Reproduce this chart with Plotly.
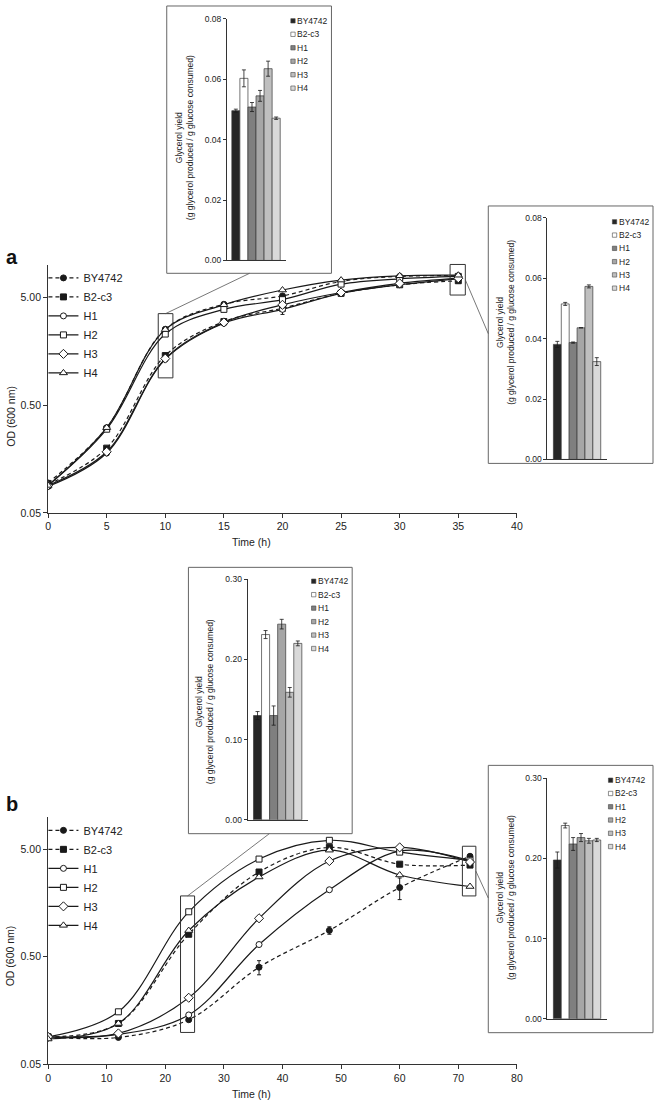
import math
import plotly.graph_objects as go

W, H = 660, 1106
FONT = "Liberation Sans"
INK = "#1a1a1a"

# ---------------- data ----------------
strains = ["BY4742", "B2-c3", "H1", "H2", "H3", "H4"]

# Panel a: growth (OD600) vs time
time_a = [0, 5, 10, 15, 20, 25, 30, 35]
od_a_BY4742 = [0.095, 0.31, 2.55, 4.35, 5.2, 7.1, 7.9, 8.0]
od_a_B2c3 = [0.092, 0.20, 1.45, 3.0, 4.0, 5.5, 6.6, 7.2]
od_a_H1 = [0.088, 0.18, 1.34, 2.9, 3.9, 5.5, 6.6, 7.5]
od_a_H2 = [0.090, 0.30, 2.30, 3.9, 4.8, 6.7, 7.5, 7.9]
od_a_H3 = [0.090, 0.185, 1.36, 2.95, 4.3, 5.6, 6.8, 7.6]
od_a_H4 = [0.090, 0.31, 2.53, 4.3, 5.9, 7.3, 8.0, 8.1]
err_a_H1 = [0, 0, 0, 0, 0.4, 0, 0, 0]

# Panel b: growth (OD600) vs time
time_b = [0, 12, 24, 36, 48, 60, 72]
od_b_BY4742 = [0.090, 0.089, 0.13, 0.40, 0.88, 2.2, 4.3]
od_b_B2c3 = [0.090, 0.12, 0.81, 3.07, 5.2, 3.63, 3.56]
od_b_H1 = [0.090, 0.095, 0.144, 0.65, 2.1, 4.8, 3.9]
od_b_H2 = [0.090, 0.154, 1.31, 4.05, 6.05, 4.7, 3.95]
od_b_H3 = [0.090, 0.097, 0.208, 1.14, 3.88, 5.2, 3.8]
od_b_H4 = [0.086, 0.12, 0.877, 2.76, 4.9, 2.88, 2.25]
err_b_BY4742 = [0, 0, 0, 0.06, 0.07, 0.5, 0]

# Glycerol yields (insets)
yield_a10 = [0.0496, 0.0603, 0.0508, 0.0545, 0.0635, 0.0471]
yerr_a10 = [0.0005, 0.0028, 0.0015, 0.0018, 0.0025, 0.0004]
yield_a35 = [0.0381, 0.0515, 0.0387, 0.0436, 0.0573, 0.0324]
yerr_a35 = [0.0010, 0.0005, 0.0002, 0.0, 0.0005, 0.0013]
yield_b24 = [0.130, 0.231, 0.130, 0.244, 0.159, 0.220]
yerr_b24 = [0.005, 0.005, 0.012, 0.006, 0.006, 0.003]
yield_b72 = [0.198, 0.241, 0.218, 0.226, 0.222, 0.223]
yerr_b72 = [0.010, 0.003, 0.008, 0.005, 0.003, 0.002]

# ---------------- styles ----------------
line_styles = {
    "BY4742": dict(dash="4px,3px", symbol="circle", fill=INK, size=6),
    "B2-c3": dict(dash="4px,3px", symbol="square", fill=INK, size=6),
    "H1": dict(dash="solid", symbol="circle", fill="white", size=6),
    "H2": dict(dash="solid", symbol="square", fill="white", size=6),
    "H3": dict(dash="solid", symbol="diamond", fill="white", size=7),
    "H4": dict(dash="solid", symbol="triangle-up", fill="white", size=7),
}
bar_colors = ["#262626", "#ffffff", "#7f7f7f", "#a6a6a6", "#bfbfbf", "#d9d9d9"]


def px(x):
    return x / W


def py(y):
    return 1 - y / H


# main plot geometry (pixels)
MAIN_X = (45.7, 521)
MAIN_A_Y = (263, 513)
MAIN_B_Y = (820, 1070)
LOGMIN, LOGMAX = math.log10(0.05), 1.0


def data_to_px(t, v, xmax, ybox):
    xp = MAIN_X[0] + t / xmax * (MAIN_X[1] - MAIN_X[0])
    yp = ybox[1] - (math.log10(v) - LOGMIN) / (LOGMAX - LOGMIN) * (ybox[1] - ybox[0])
    return xp, yp


fig = go.Figure()

series_a = [od_a_BY4742, od_a_B2c3, od_a_H1, od_a_H2, od_a_H3, od_a_H4]
series_b = [od_b_BY4742, od_b_B2c3, od_b_H1, od_b_H2, od_b_H3, od_b_H4]
errs_a = {"H1": err_a_H1}
errs_b = {"BY4742": err_b_BY4742}

for panel, (tt, series, errs, xa, ya, lg) in enumerate([
    (time_a, series_a, errs_a, "x", "y", "legend"),
    (time_b, series_b, errs_b, "x2", "y2", "legend2"),
]):
    for name, vals in zip(strains, series):
        st = line_styles[name]
        err = errs.get(name)
        fig.add_trace(go.Scatter(
            x=tt, y=vals, name=name, xaxis=xa, yaxis=ya, legend=lg,
            mode="lines+markers",
            line=dict(color=INK, width=1.2, dash=st["dash"], shape="spline", smoothing=1),
            marker=dict(symbol=st["symbol"], size=st["size"], color=st["fill"],
                        line=dict(color=INK, width=1)),
            error_y=dict(type="data", array=err, visible=err is not None,
                         color=INK, thickness=1, width=2),
        ))

# inset bar charts
insets = [
    ("x3", "y3", yield_a10, yerr_a10),
    ("x4", "y4", yield_a35, yerr_a35),
    ("x5", "y5", yield_b24, yerr_b24),
    ("x6", "y6", yield_b72, yerr_b72),
]
for xa, ya, vals, errs in insets:
    fig.add_trace(go.Bar(
        x=list(range(len(strains))), y=vals, xaxis=xa, yaxis=ya, width=1,
        showlegend=False,
        marker=dict(color=bar_colors, line=dict(color="#3a3a3a", width=0.7)),
        error_y=dict(type="data", array=errs, color=INK, thickness=0.8, width=2),
    ))

tickfont = dict(family=FONT, size=10.5, color="#222")
insetfont = dict(family=FONT, size=8.5, color="#222")

common_axis = dict(showline=True, linecolor="#333", linewidth=1, ticks="outside",
                   ticklen=4, tickcolor="#333", showgrid=False, zeroline=False)

layout = dict(
    width=W, height=H, autosize=False,
    margin=dict(l=0, r=0, t=0, b=0),
    paper_bgcolor="white", plot_bgcolor="rgba(0,0,0,0)",
    barmode="overlay",
    font=dict(family=FONT, color="#222"),
)
# main axes
for i, ybox, xmax, dt in [("", MAIN_A_Y, 40, 5), ("2", MAIN_B_Y, 80, 10)]:
    layout["xaxis" + i] = dict(common_axis, domain=[px(MAIN_X[0]), px(MAIN_X[1])],
                               anchor="y" + i, range=[0, xmax], dtick=dt, tick0=0,
                               tickfont=tickfont)
    layout["yaxis" + i] = dict(common_axis, domain=[py(ybox[1]), py(ybox[0])],
                               anchor="x" + i, type="log", range=[LOGMIN, LOGMAX],
                               tickvals=[0.05, 0.5, 5], ticktext=["0.05", "0.50", "5.00"],
                               tickfont=tickfont)

# inset axes: (xdomain px, ydomain px, xrange, ymax, dtick)
inset_geo = [
    ((227, 287), (14, 258), (-1.11, 6.23), 0.08, 0.02),
    ((552, 612), (215, 459), (-1.25, 6.25), 0.08, 0.02),
    ((248, 309), (580, 823), (-1.23, 6.24), 0.30, 0.10),
    ((552, 612), (781, 1024), (-1.25, 6.25), 0.30, 0.10),
]
for k, (xd, yd, xr, ymax, dt) in enumerate(inset_geo):
    n = str(k + 3)
    layout["xaxis" + n] = dict(domain=[px(xd[0]), px(xd[1])], anchor="y" + n, range=list(xr),
                               showline=True, linecolor="#333", linewidth=1, showticklabels=False,
                               ticks="", showgrid=False, zeroline=False, fixedrange=True)
    layout["yaxis" + n] = dict(domain=[py(yd[1]), py(yd[0])], anchor="x" + n, range=[0, ymax],
                               dtick=dt, tick0=0, tickformat=".2f", showline=True, linecolor="#333",
                               linewidth=1, ticks="outside", ticklen=3, tickcolor="#333",
                               showgrid=False, zeroline=False, tickfont=insetfont)

legend_common = dict(xanchor="left", yanchor="top", bgcolor="rgba(0,0,0,0)",
                     font=dict(family=FONT, size=11, color="#222"), borderwidth=0,
                     itemwidth=30, tracegroupgap=0)
layout["legend"] = dict(legend_common, x=px(41), y=py(261))
layout["legend2"] = dict(legend_common, x=px(41), y=py(819))

fig.update_layout(**layout)

shapes = []
annotations = []

# inset frames (pixels: left, top, right, bottom)
inset_frames = [(166, 1, 333, 271), (492, 203, 659, 463), (188, 568, 354, 837), (492, 768, 659, 1038)]
for (l, t, r, b) in inset_frames:
    shapes.append(dict(type="rect", xref="paper", yref="paper", x0=px(l), x1=px(r),
                       y0=py(b), y1=py(t), line=dict(color="#666", width=1), layer="below"))

# zoom boxes around the sampled time points (time lo/hi, OD lo/hi)
zoom_boxes = [
    (9.4, 10.65, 0.90, 3.56, 40, MAIN_A_Y),
    (34.3, 35.6, 5.3, 10.2, 40, MAIN_A_Y),
    (22.6, 25.0, 0.099, 1.84, 80, MAIN_B_Y),
    (70.7, 73.0, 1.84, 5.33, 80, MAIN_B_Y),
]
box_px = []
for (t0, t1, v0, v1, xmax, ybox) in zoom_boxes:
    x0, y0 = data_to_px(t0, v0, xmax, ybox)
    x1, y1 = data_to_px(t1, v1, xmax, ybox)
    box_px.append((x0, y1, x1, y0))
    shapes.append(dict(type="rect", xref="paper", yref="paper", x0=px(x0), x1=px(x1),
                       y0=py(y0), y1=py(y1), line=dict(color="#333", width=1)))

# connectors: zoom box -> inset frame
conn = [
    (((box_px[0][0] + box_px[0][2]) / 2, box_px[0][1]), (250, inset_frames[0][3])),
    ((box_px[1][2], (box_px[1][1] + box_px[1][3]) / 2), (inset_frames[1][0], 332)),
    (((box_px[2][0] + box_px[2][2]) / 2, box_px[2][1]), (270, inset_frames[2][3])),
    ((box_px[3][2], (box_px[3][1] + box_px[3][3]) / 2), (inset_frames[3][0], 902)),
]
for (a, b) in conn:
    shapes.append(dict(type="line", xref="paper", yref="paper", x0=px(a[0]), y0=py(a[1]),
                       x1=px(b[0]), y1=py(b[1]), line=dict(color="#555", width=0.8)))

# inset legends: (swatch centre x, text x, first row y, row step)
inset_legends = [(294, 297, 16, 13.6), (620, 623, 219, 13.4), (315, 318, 582, 13.6), (616, 619, 783, 13.4)]
for (sx, tx, y0, dy) in inset_legends:
    for i, (name, col) in enumerate(zip(strains, bar_colors)):
        yy = y0 + i * dy
        shapes.append(dict(type="rect", xref="paper", yref="paper", x0=px(sx - 2.2), x1=px(sx + 2.2),
                           y0=py(yy + 2.2), y1=py(yy - 2.2), fillcolor=col,
                           line=dict(color="#444", width=0.6)))
        annotations.append(dict(xref="paper", yref="paper", x=px(tx), y=py(yy), text=name,
                                showarrow=False, xanchor="left", yanchor="middle",
                                borderpad=0, font=dict(family=FONT, size=8.5, color="#222")))

# inset y titles
inset_titles = [(184, 134), (510, 321), (205, 704), (509, 902)]
for (x, y) in inset_titles:
    annotations.append(dict(xref="paper", yref="paper", x=px(x), y=py(y), textangle=-90,
                            text="Glycerol yield<br>(g glycerol produced / g glucose consumed)",
                            showarrow=False, xanchor="center", yanchor="middle",
                            font=dict(family=FONT, size=8.5, color="#222")))

# main axis titles and panel letters
for (ty, oy, ly, letter) in [(542, 415, 255, "a"), (1100, 960, 807, "b")]:
    annotations.append(dict(xref="paper", yref="paper", x=px(252), y=py(ty), text="Time (h)",
                            showarrow=False, xanchor="center", yanchor="middle",
                            font=dict(family=FONT, size=10.5, color="#222")))
    annotations.append(dict(xref="paper", yref="paper", x=px(8), y=py(oy), text="OD (600 nm)",
                            textangle=-90, showarrow=False, xanchor="center", yanchor="middle",
                            font=dict(family=FONT, size=10.5, color="#222")))
    annotations.append(dict(xref="paper", yref="paper", x=px(1), y=py(ly), text="<b>%s</b>" % letter,
                            showarrow=False, xanchor="left", yanchor="middle",
                            font=dict(family=FONT, size=20, color="#111")))

fig.update_layout(shapes=shapes, annotations=annotations)
# remove the default page margin so the figure sits at the window's top-left corner
fig.write_html("out.html", config={"displayModeBar": False},
               post_script="document.body.style.margin='0';")
